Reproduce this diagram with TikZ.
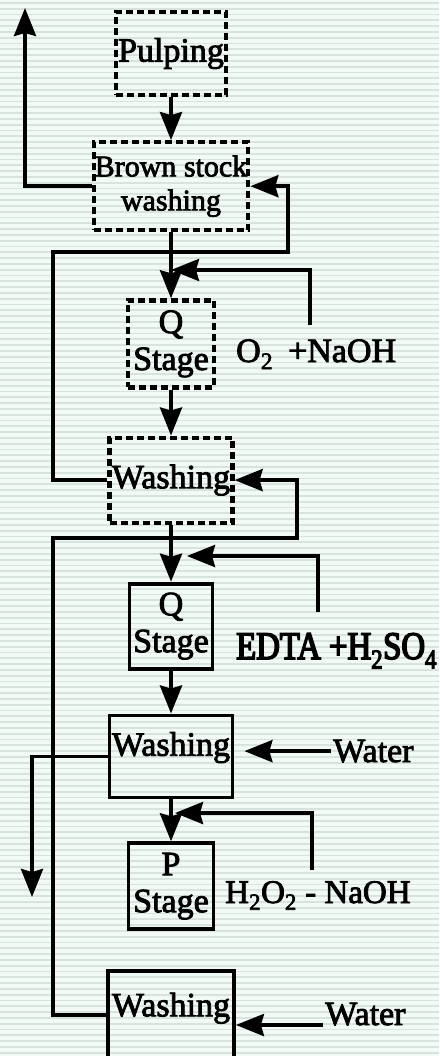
\documentclass[tikz,border=0pt]{standalone}
\usepackage{fontspec}
\setmainfont{Liberation Serif}[FakeBold=2.5]
\newfontfamily\narrowfont{Liberation Serif}[FakeStretch=0.84, FakeBold=4]
\usetikzlibrary{arrows.meta, positioning}

\definecolor{bgmint}{HTML}{F1FAF5}
\definecolor{stripegray}{HTML}{D9E3DE}

\begin{document}
\begin{tikzpicture}[
    x=1pt, y=-1pt,
    box/.style={rectangle, draw, line width=3.8pt, inner sep=1pt, align=center,
                font=\fontsize{34}{37}\selectfont},
    dashbox/.style={box, line width=4.2pt, dash pattern=on 7pt off 4pt},
    arrow/.style={-{Stealth[length=28pt, width=22pt, inset=3pt]}, line width=3.8pt},
    lbl/.style={anchor=base west, inner sep=0pt, font=\fontsize{34}{37}\selectfont}
  ]
    % striped background
    \useasboundingbox (0,0) rectangle (439,1056);
    \clip (0,0) rectangle (439,1056);
    \fill[bgmint] (0,0) rectangle (439,1056);
    \foreach \y in {2,7.8,...,1056}
      \fill[stripegray] (0,\y) rectangle (439,\y+1.8);

    % process column
    \node[dashbox, minimum width=110pt, minimum height=83pt] (pulp) at (171,53.5) {Pulping};
    \node[dashbox, minimum width=153pt, minimum height=88pt, font=\fontsize{30}{34}\selectfont,
          below=43pt of pulp] (bsw) {Brown stock\\washing};
    \node[dashbox, minimum width=86pt, minimum height=87pt, below=66pt of bsw] (qa) {Q\\Stage};
    \node[dashbox, minimum width=123pt, minimum height=85pt, below=46pt of qa] (wa) {Washing};
    \node[box, minimum width=83pt, minimum height=85pt, below=57pt of wa] (qb) {Q\\Stage};
    \node[box, minimum width=123pt, minimum height=82pt, text depth=25pt, below=43pt of qb] (wb) {Washing};
    \node[box, minimum width=85pt, minimum height=86pt, below=42pt of wb] (pst) {P\\Stage};
    \node[box, minimum width=126pt, minimum height=88pt, text depth=21pt, below=38pt of pst] (wc) {Washing};

    \draw[arrow] (pulp) -- (bsw);
    \draw[arrow] (bsw) -- (qa);
    \draw[arrow] (qa) -- (wa);
    \draw[arrow] (wa) -- (qb);
    \draw[arrow] (qb) -- (wb);
    \draw[arrow] (wb) -- (pst);

    % chemical and water feeds
    \node[lbl] (o2) at (236,362) {O\textsubscript{2}\hspace{15pt}+NaOH};
    \node[lbl, font=\fontsize{39}{42}\narrowfont] (edta) at (236,659) {EDTA +H\textsubscript{2}SO\textsubscript{4}};
    \node[lbl, font=\fontsize{33}{37}\selectfont] (h2o2) at (225,903) {H\textsubscript{2}O\textsubscript{2} - NaOH};
    \node[lbl] (water1) at (333,762) {Water};
    \node[lbl] (water2) at (325,1025) {Water};

    \coordinate (o2top) at (310,270);
    \coordinate (o2bot) at (310,325);
    \coordinate (edtop) at (318,556);
    \coordinate (edbot) at (318,612);
    \coordinate (h2top) at (312,813);
    \coordinate (h2bot) at (312,870);

    \draw[arrow] (o2bot) -- (o2top) -- (o2top -| bsw.south);
    \draw[arrow] (edbot) -- (edtop) -- ([xshift=16pt]edtop -| wa.south);
    \draw[arrow] (h2bot) -- (h2top) -- ([xshift=4pt]h2top -| wb.south);
    \draw[arrow] ([xshift=-2pt]water1.west) -- ([xshift=10pt]water1.west -| wb.east);
    \draw[arrow] ([xshift=-2pt]water2.base west) -- (water2.base west -| wc.east);

    % filtrate outlets and recycles
    \coordinate (vent) at (25,8);
    \coordinate (drain) at (32,897);
    \coordinate (r1a) at (53,252);
    \coordinate (r1b) at (288,252);
    \coordinate (r2a) at (53,538);
    \coordinate (r2b) at (297,538);

    \draw[arrow] (bsw.west) -| (vent);
    \draw[arrow] (wb.west) -| (drain);
    \draw[arrow] (wa.west) -| (r1a) -- (r1b) |- (bsw.east);
    \draw[arrow] (wc.west) -| (r2a) -- (r2b) |- (wa.east);
\end{tikzpicture}
\end{document}
